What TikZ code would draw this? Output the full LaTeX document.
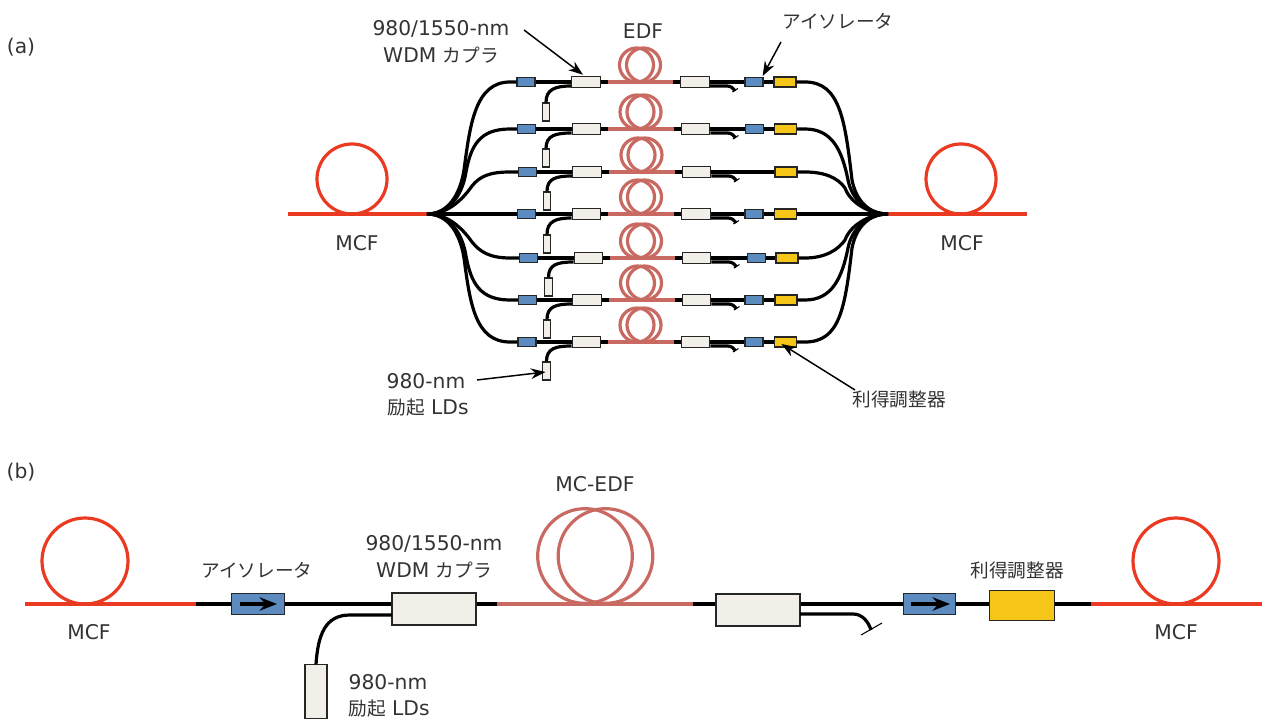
\documentclass[tikz,border=0pt]{standalone}
\usepackage{fontspec}
\setmainfont{DejaVu Sans}
\newfontfamily\jpf{Noto Sans CJK JP}
\newcommand{\jp}[1]{{\jpf\fontsize{14}{17}\selectfont #1}}
\usetikzlibrary{arrows.meta,calc}
\definecolor{fibred}{HTML}{EA3A22}
\definecolor{edfpink}{HTML}{C96A62}
\definecolor{isoblue}{HTML}{5B8BBF}
\definecolor{gainyel}{HTML}{F5C518}
\definecolor{cream}{HTML}{F1EFE7}
\tikzset{
  x=0.75pt,y=-0.75pt,
  lab/.style={font=\fontsize{15.2}{17}\selectfont,inner sep=0pt,text=black!80},
  fib/.style={line width=2.4pt,black},
  fibs/.style={line width=2.4pt,black},
  mcf/.style={line width=2.4pt,fibred},
  edf/.style={line width=2.4pt,edfpink},
  box/.style={draw=black!85,line width=0.9pt,inner sep=0pt},
  isoS/.style={box,fill=isoblue,minimum width=13.5pt,minimum height=6.5pt},
  gainS/.style={box,fill=gainyel,minimum width=16.5pt,minimum height=7.5pt},
  wdmS/.style={box,fill=cream,minimum width=21.5pt,minimum height=8.5pt},
  ldS/.style={box,fill=cream,minimum width=5.5pt,minimum height=13.5pt},
  isoB/.style={box,fill=isoblue,minimum width=39.5pt,minimum height=16pt},
  gainB/.style={box,fill=gainyel,minimum width=48.5pt,minimum height=22pt},
  wdmB/.style={box,fill=cream,minimum width=63pt,minimum height=24pt},
  ldB/.style={box,fill=cream,minimum width=16.5pt,minimum height=40pt},
  leader/.style={line width=1.1pt,black,-{Stealth[length=11pt,width=8pt]}},
  coilS/.style={draw=edfpink,line width=2.4pt,circle,minimum size=25.5pt,inner sep=0pt},
  coilB/.style={draw=edfpink,line width=2.4pt,circle,minimum size=71pt,inner sep=0pt},
  mcfcoilA/.style={draw=fibred,line width=2.4pt,circle,minimum size=52.5pt,inner sep=0pt},
  mcfcoilB/.style={draw=fibred,line width=2.4pt,circle,minimum size=64.5pt,inner sep=0pt},
}
\begin{document}
\begin{tikzpicture}
\useasboundingbox (0,0) rectangle (1263,720);
% panel (a) trunk fibres
\coordinate (hubL) at (427,214);
\coordinate (hubR) at (888,214);
\draw[mcf] (288,214) -- (hubL);
\draw[mcf] (hubR) -- (1027,214);
\node[mcfcoilA] (coilAL) at (352,179) {};
\node[mcfcoilA] (coilAR) at (961,179) {};
% rows
\foreach \i/\y/\ba/\wa/\lx/\ly/\wb/\gy/\kx in {
 1/82/526/586/546/112/695/785/640,
 2/129/526.5/586.5/546/158/695.5/785.5/640.5,
 3/172/527.5/587/547/201/696.5/786/641.5,
 4/214/526.5/586.5/547/244/696/785.5/641,
 5/258/528.5/588.5/548.5/287/696.5/787/641,
 6/300/527.5/587/547/329/696.5/786/641,
 7/342/527/586.5/546.5/371/695.5/785.5/640.5}
{
  \node[wdmS] (wa\i) at (\wa,\y) {};
  \node[wdmS] (wb\i) at (\wb,\y) {};
  \node[isoS] (ba\i) at (\ba,\y) {};
  \node[gainS] (gy\i) at (\gy,\y) {};
  \node[ldS] (ld\i) at (\lx,\ly) {};
  \coordinate (wp\i) at ($(wa\i.west)+(0,4)$);
  \coordinate (wt\i) at ($(wb\i.east)+(0,4)$);
  \coordinate (te\i) at ($(wb\i.east)+(25,9)$);
  \coordinate (ta\i) at ($(wb\i.east)+(22.5,10)$);
  \coordinate (tb\i) at ($(wb\i.east)+(28,6.5)$);
  \coordinate (ea\i) at ($(wa\i.east)+(7,0)$);
  \coordinate (eb\i) at ($(wb\i.west)+(-7,0)$);
  \draw[fibs] (ba\i.east) -- (wa\i.west);
  \draw[fibs] (wa\i.east) -- (ea\i);
  \draw[edf] (ea\i) -- (eb\i);
  \draw[fibs] (eb\i) -- (wb\i.west);
  \draw[fibs] (wb\i.east) -- (gy\i.west);
  \draw[fibs] (ld\i.north) .. controls ($(ld\i.north)+(0,-13)$) and ($(wp\i)+(-16,0)$) .. (wp\i);
  \draw[fibs] (wt\i) -- ($(wt\i)+(17,0)$) .. controls ($(wt\i)+(21,0)$) and ($(te\i)+(-2,-3)$) .. (te\i);
  \draw[line width=0.8pt] (ta\i) -- (tb\i);
  \node[coilS] (ca\i) at ($(\kx-3.5,\y-17)$) {};
  \node[coilS] (cb\i) at ($(\kx+3.5,\y-17)$) {};
}
% right side isolators (row 3 has none)
\foreach \i/\y/\bb in {1/82/754,2/129/754.5,4/214/754,5/258/756.5,6/300/754,7/342/754}
  \node[isoS] (bb\i) at (\bb,\y) {};
% left fan
\foreach \i/\y/\ax/\ay/\mx/\my/\bx/\by/\dx in {
 1/82/460/195/464/170/470/125/475,
 2/129/462/197/466/172/471/145/480,
 3/172/462/200/472/186/480/176/490,
 5/258/462/228/472/242/480/252/490,
 6/300/462/231/466/256/471/283/480,
 7/342/460/233/464/258/470/303/475}
  \draw[fibs] (hubL) .. controls (448,214) and (\ax,\ay) .. (\mx,\my) .. controls (\bx,\by) and (\dx,\y) .. (510,\y) -- (ba\i.west);
\draw[fibs] (hubL) -- (ba4.west);
% right fan
\foreach \i/\y/\ax/\ay/\mx/\my/\bx/\by/\dx in {
 1/82/856/200/852/180/845/120/840,
 2/129/852/200/848/180/842/150/832,
 3/172/850/202/845/188/838/178/825,
 5/258/850/226/845/240/838/250/825,
 6/300/852/228/848/248/842/278/832,
 7/342/856/228/852/248/845/308/840}
  \draw[fibs] (hubR) .. controls (868,214) and (\ax,\ay) .. (\mx,\my) .. controls (\bx,\by) and (\dx,\y) .. (805,\y) -- (gy\i.east);
\draw[fibs] (hubR) -- (gy4.east);
% panel (a) labels
\node[lab] (a) at (21,47) {(a)};
\node[lab] (wl1) at (441,29) {980/1550-nm};
\node[lab] (wl2) at (441,55) {WDM \jp{カプラ}};
\node[lab] (edfl) at (643,31) {EDF};
\node[lab] (isol) at (838,21) {\jp{アイソレータ}};
\node[lab] (ldl1) at (426,381) {980-nm};
\node[lab] (ldl2) at (428,407) {\jp{励起} LDs};
\node[lab] (gl) at (899,399) {\jp{利得調整器}};
\node[lab] (mA1) at (357,243) {MCF};
\node[lab] (mA2) at (962,243) {MCF};
\coordinate (arA) at (524,30);
\coordinate (arB) at (781,42);
\coordinate (arC) at (477,380);
\coordinate (arD) at (855,390);
\draw[leader] (arA) -- ($(wa1.north)+(-3,-1)$);
\draw[leader] (arB) -- ($(bb1.north east)+(-1,-1)$);
\draw[leader] (arC) -- ($(ld7.center)+(-1,1)$);
\draw[leader] (arD) -- ($(gy7.center)+(-4,2)$);
% panel (b)
\node[lab] (b) at (21,472) {(b)};
\coordinate (mL) at (25,604);
\coordinate (mLe) at (196,604);
\coordinate (mR) at (1091,604);
\coordinate (mRe) at (1262,604);
\coordinate (eS) at (497,604);
\coordinate (eE) at (693,604);
\node[wdmB] (wA) at (434,609) {};
\node[wdmB] (wB) at (758,610) {};
\node[isoB] (iA) at (258,604) {};
\node[isoB] (iB) at (929.5,604) {};
\node[gainB] (gB) at (1022,605.5) {};
\node[ldB] (ldb) at (316,691.5) {};
\coordinate (pp) at (392,615);
\coordinate (tp) at (800,614);
\coordinate (tq) at (871,630);
\coordinate (tk1) at (861,635);
\coordinate (tk2) at (882,623);
\draw[mcf] (mL) -- (mLe);
\draw[mcf] (mR) -- (mRe);
\node[mcfcoilB] (cL) at (85,561) {};
\node[mcfcoilB] (cR) at (1176,561) {};
\draw[fib] (mLe) -- (iA.west);
\draw[fib] (iA.east) -- (iA.east -| wA.west);
\draw[fib] (iA.east -| wA.east) -- (eS);
\draw[edf] (eS) -- (eE);
\draw[fib] (eE) -- (eE -| wB.west);
\draw[fib] (eE -| wB.east) -- (iB.west);
\draw[fib] (iB.east) -- (iB.east -| gB.west);
\draw[fib] (iB.east -| gB.east) -- (mR);
\draw[fib] (ldb.north) .. controls (318,635) and (325,615) .. (350,615) -- (pp);
\draw[fib] (tp) -- (853,614) .. controls (862,614) and (868,621) .. (tq);
\draw[line width=0.8pt] (tk1) -- (tk2);
\node[coilB] (cE1) at (585,556) {};
\node[coilB] (cE2) at (605.5,556) {};
\draw[line width=2.4pt,-{Stealth[length=13pt,width=10pt]}] (240,604) -- (277,604);
\draw[line width=2.4pt,-{Stealth[length=13pt,width=10pt]}] (911,604) -- (950,604);
\node[lab] (mB1) at (89,632) {MCF};
\node[lab] (mB2) at (1176,632) {MCF};
\node[lab] (edB) at (595,484) {MC-EDF};
\node[lab] (isB) at (257,570) {\jp{アイソレータ}};
\node[lab] (wB1) at (434,544) {980/1550-nm};
\node[lab] (wB2) at (434,570) {WDM \jp{カプラ}};
\node[lab] (gBl) at (1017,570) {\jp{利得調整器}};
\node[lab] (lB1) at (388,682) {980-nm};
\node[lab] (lB2) at (389,708) {\jp{励起} LDs};
\end{tikzpicture}
\end{document}
